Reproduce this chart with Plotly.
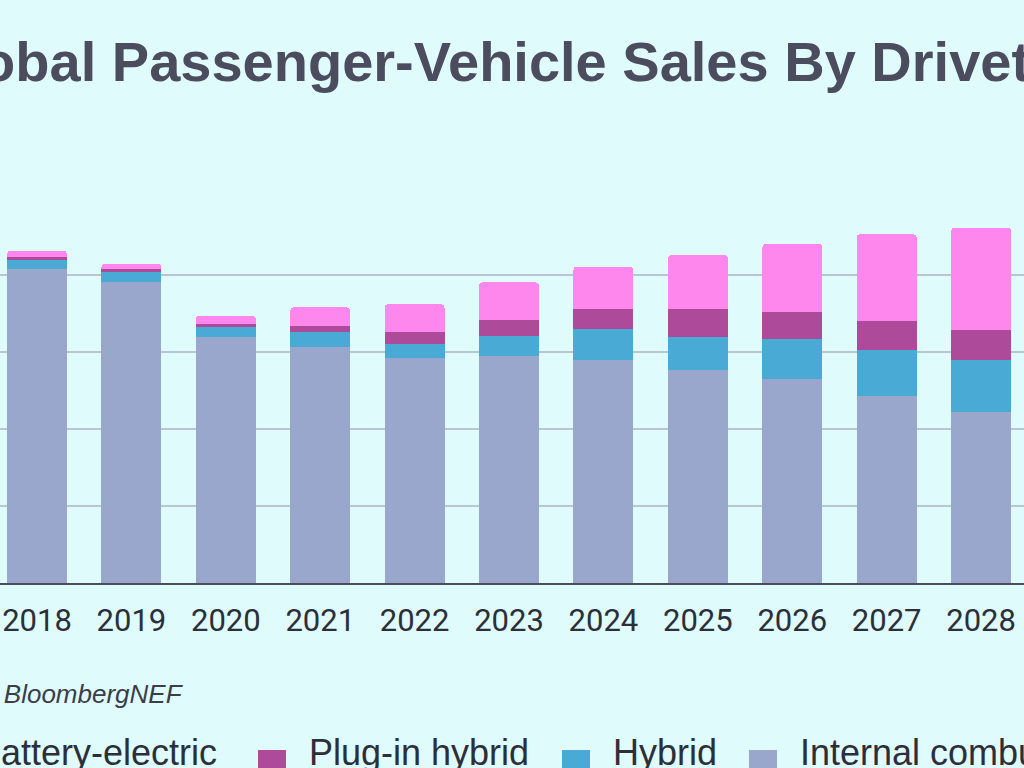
import plotly.graph_objects as go

years = [2018, 2019, 2020, 2021, 2022, 2023, 2024, 2025, 2026, 2027, 2028]
internal_combustion = [81.6, 78.1, 63.8, 61.4, 58.5, 59.0, 57.9, 55.3, 52.9, 48.6, 44.5]
hybrid = [2.3, 2.75, 2.6, 3.7, 3.6, 5.2, 8.0, 8.65, 10.4, 11.8, 13.4]
plug_in_hybrid = [0.8, 0.7, 1.0, 1.7, 3.0, 4.2, 5.3, 7.1, 7.2, 7.7, 7.8]
battery_electric = [1.6, 1.3, 2.0, 4.8, 7.3, 9.7, 11.0, 14.1, 17.6, 22.5, 26.6]

series_names = ["Internal combustion", "Hybrid", "Plug-in hybrid", "Battery-electric"]
colors = {"Internal combustion": "#98a7cb", "Hybrid": "#4aaad6",
          "Plug-in hybrid": "#ad4a99", "Battery-electric": "#fd87ec"}
values = {"Internal combustion": internal_combustion, "Hybrid": hybrid,
          "Plug-in hybrid": plug_in_hybrid, "Battery-electric": battery_electric}

title_text = "Global Passenger-Vehicle Sales By Drivetrain"
source_text = "Source: BloombergNEF"

W, H = 1024, 768
TOP, BASE = 198, 583          # plot area pixel rows
PH = BASE - TOP

def py(p):  # pixel row -> paper y
    return (BASE - p) / PH

def px(p):  # pixel column -> paper x
    return p / W

fig = go.Figure()
for name in series_names:
    fig.add_trace(go.Bar(x=years, y=values[name], name=name,
                         marker=dict(color=colors[name], line=dict(width=0)),
                         width=0.635, showlegend=False))

bg = "#e0fbfb"
fig.update_layout(
    width=W, height=H, barmode="stack", barcornerradius=4,
    paper_bgcolor=bg, plot_bgcolor=bg,
    margin=dict(l=0, r=0, t=TOP, b=H - BASE, pad=0),
    xaxis=dict(range=[2017.608, 2028.455], tickvals=years, ticktext=[str(y) for y in years],
               showgrid=False, showline=True, linecolor="#4a4c58", linewidth=2,
               ticks="", ticklabelstandoff=9,
               tickfont=dict(family="Roboto", size=31, color="#2b2f3a")),
    yaxis=dict(range=[0, 100], tickvals=[0, 20, 40, 60, 80, 100], showticklabels=False,
               showgrid=True, gridcolor="#b9c6d2", gridwidth=1.5, zeroline=False),
)

annotations = []
# title (cropped on both sides as in the reference)
annotations.append(dict(text=f"<b>{title_text}</b>", xref="paper", yref="paper",
                        x=px(-80), y=py(61), xanchor="left", yanchor="middle",
                        showarrow=False, font=dict(family="Liberation Sans", size=56, color="#4b4c5e")))
# source
annotations.append(dict(text=f"<i>{source_text}</i>", xref="paper", yref="paper",
                        x=px(186), y=py(694), xanchor="right", yanchor="middle",
                        showarrow=False, font=dict(family="Liberation Sans", size=26, color="#3b3d4b")))

# legend row (manual, large swatches)
legend_items = [("Battery-electric", -74), ("Plug-in hybrid", 258), ("Hybrid", 562), ("Internal combustion", 749)]
shapes = []
for name, sx in legend_items:
    shapes.append(dict(type="rect", xref="paper", yref="paper",
                       x0=px(sx), x1=px(sx + 28), y0=py(778), y1=py(750),
                       fillcolor=colors[name], line=dict(width=0)))
    annotations.append(dict(text=name, xref="paper", yref="paper",
                            x=px(sx + 49), y=py(752), xanchor="left", yanchor="middle",
                            showarrow=False, font=dict(family="Liberation Sans", size=36, color="#2c2f3a")))

fig.update_layout(annotations=annotations, shapes=shapes)
fig.write_html("out.html", config={"displayModeBar": False},
               post_script="document.body.style.margin='0px';document.body.style.overflow='hidden';")
